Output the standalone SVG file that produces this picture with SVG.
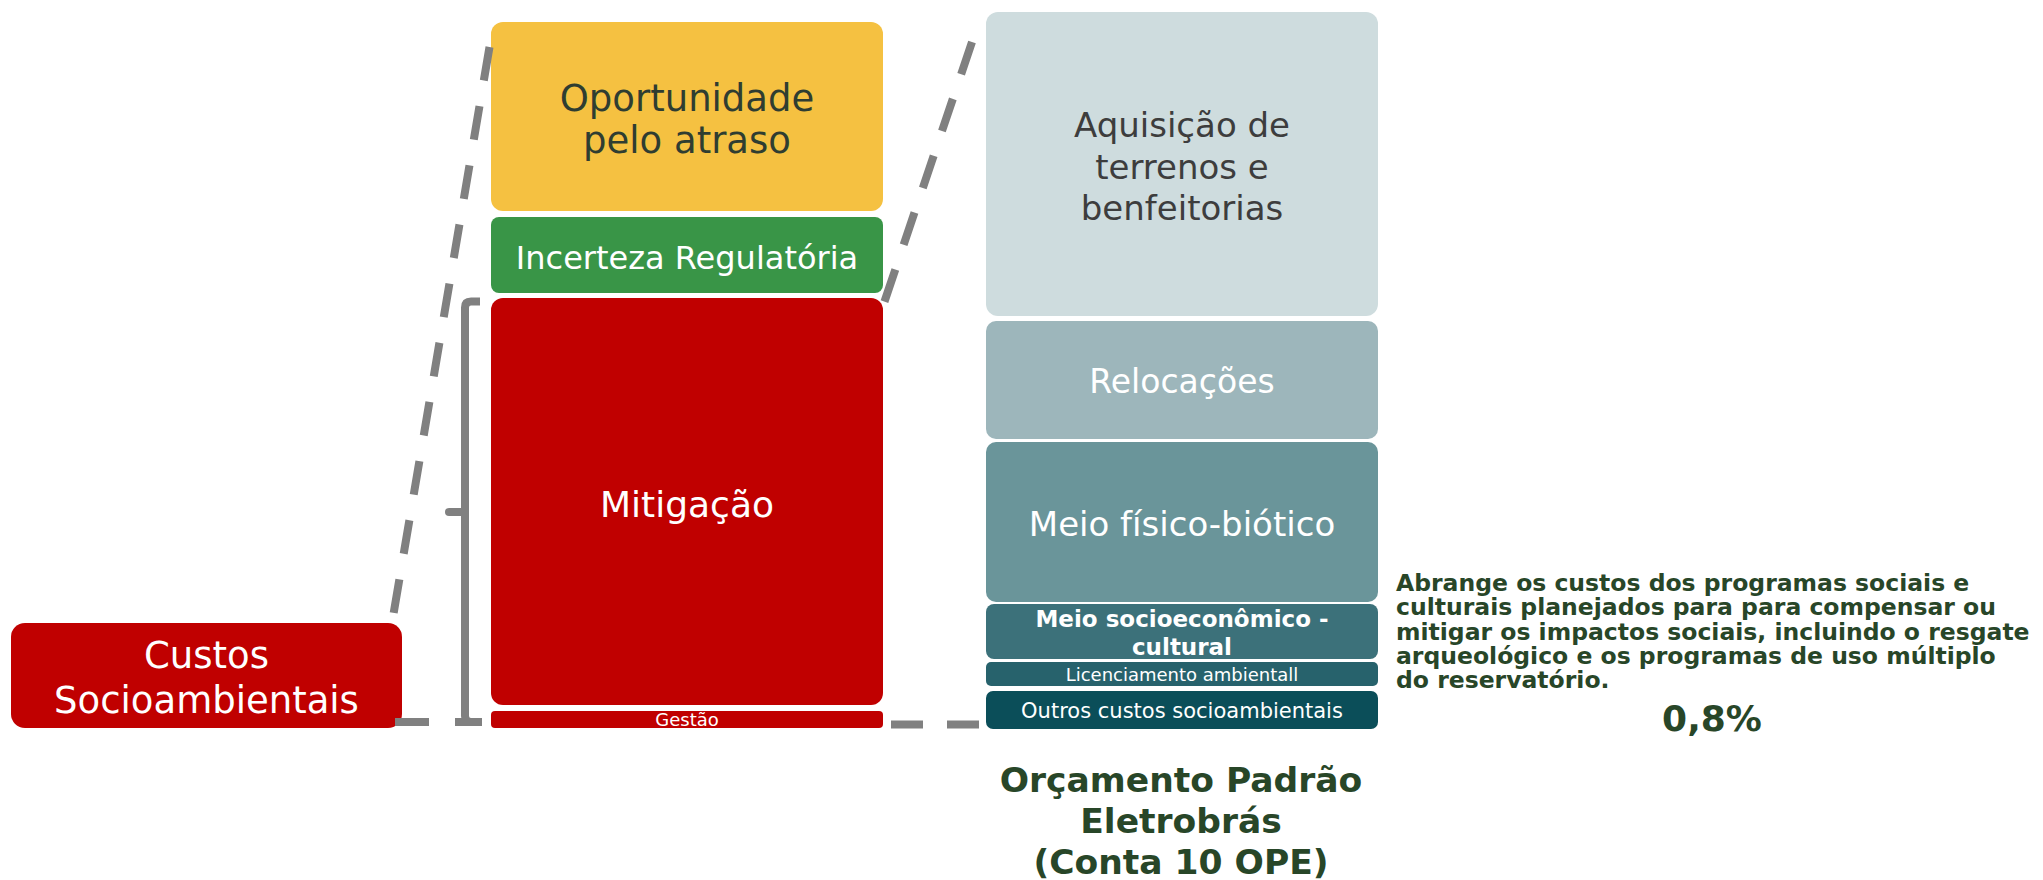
<svg xmlns="http://www.w3.org/2000/svg" width="2043" height="880" viewBox="0 0 2043 880">
<style>
.lbl{font-family:"DejaVu Sans","Liberation Sans",sans-serif;text-anchor:middle}
.b{font-weight:bold}
.w{fill:#ffffff}
.dk{fill:#2f3d31}
.gr{fill:#3d3d3d}
.grn{fill:#284628;font-family:"DejaVu Sans","Liberation Sans",sans-serif;font-weight:bold}
.dash{fill:none;stroke:#808080;stroke-width:8;stroke-dasharray:34 26}
.br{fill:none;stroke:#808080;stroke-width:8}
</style>
<rect width="2043" height="880" fill="#ffffff"/>

<g id="custos">
<rect x="11" y="623" width="391" height="105" rx="14" fill="#C00000"/>
<text class="lbl w" x="206.5" y="668" font-size="37">Custos</text>
<text class="lbl w" x="206.5" y="713" font-size="37">Socioambientais</text>
</g>

<g id="oportunidade">
<rect x="491" y="22" width="392" height="189" rx="12" fill="#F5C141"/>
<text class="lbl dk" x="687" y="111" font-size="37">Oportunidade</text>
<text class="lbl dk" x="687" y="153" font-size="37">pelo atraso</text>
</g>

<g id="incerteza">
<rect x="491" y="217" width="392" height="76" rx="8" fill="#399547"/>
<text class="lbl w" x="687" y="269" font-size="32">Incerteza Regulatória</text>
</g>

<g id="mitigacao">
<rect x="491" y="298" width="392" height="407" rx="12" fill="#C00000"/>
<text class="lbl w" x="687" y="517" font-size="36">Mitigação</text>
</g>

<g id="gestao">
<rect x="491" y="711" width="392" height="17" rx="4" fill="#C00000"/>
<text class="lbl w" x="687" y="726" font-size="18">Gestão</text>
</g>

<g id="aquisicao">
<rect x="986" y="12" width="392" height="304" rx="12" fill="#CEDCDE"/>
<text class="lbl gr" x="1182" y="137" font-size="34">Aquisição de</text>
<text class="lbl gr" x="1182" y="179" font-size="34">terrenos e</text>
<text class="lbl gr" x="1182" y="220" font-size="34">benfeitorias</text>
</g>

<g id="relocacoes">
<rect x="986" y="321" width="392" height="118" rx="10" fill="#9DB6BB"/>
<text class="lbl w" x="1182" y="393" font-size="33">Relocações</text>
</g>

<g id="meio-fisico">
<rect x="986" y="442" width="392" height="160" rx="10" fill="#6A959A"/>
<text class="lbl w" x="1182" y="536" font-size="34">Meio físico-biótico</text>
</g>

<g id="meio-socio">
<rect x="986" y="604" width="392" height="55" rx="8" fill="#3C717A"/>
<text class="lbl w b" x="1182" y="627" font-size="23">Meio socioeconômico -</text>
<text class="lbl w b" x="1182" y="655" font-size="23">cultural</text>
</g>

<g id="licenciamento">
<rect x="986" y="662" width="392" height="24" rx="5" fill="#27626C"/>
<text class="lbl w" x="1182" y="681" font-size="18">Licenciamento ambientall</text>
</g>

<g id="outros">
<rect x="986" y="691" width="392" height="38" rx="7" fill="#0B4E59"/>
<text class="lbl w" x="1182" y="718" font-size="21">Outros custos socioambientais</text>
</g>

<g id="titulo-ope">
<text class="grn" text-anchor="middle" font-size="34.5" x="1181" y="792">Orçamento Padrão</text>
<text class="grn" text-anchor="middle" font-size="34.5" x="1181" y="833">Eletrobrás</text>
<text class="grn" text-anchor="middle" font-size="34.5" x="1181" y="874">(Conta 10 OPE)</text>
</g>

<g id="descricao">
<text class="grn" font-size="23.5" x="1396" y="591">Abrange os custos dos programas sociais e</text>
<text class="grn" font-size="23.5" x="1396" y="615">culturais planejados para para compensar ou</text>
<text class="grn" font-size="23.5" x="1396" y="639.5">mitigar os impactos sociais, incluindo o resgate</text>
<text class="grn" font-size="23.5" x="1396" y="664">arqueológico e os programas de uso múltiplo</text>
<text class="grn" font-size="23.5" x="1396" y="688">do reservatório.</text>
<text class="grn" font-size="36" x="1712" y="731" text-anchor="middle">0,8%</text>
</g>

<g id="connectors">
<path class="dash" d="M489.5,47 L392.5,620"/>
<path class="dash" d="M395,722 H482"/>
<path class="br" d="M480,301.5 H471 Q465,301.5 465,307.5 V716 Q465,722 471,722 H480"/>
<path class="br" d="M465,512 H449" stroke-linecap="round"/>
<path class="dash" d="M972,42 L883,306"/>
<path class="dash" style="stroke-dasharray:32 24" d="M891,724.5 H982"/>
</g>
</svg>
